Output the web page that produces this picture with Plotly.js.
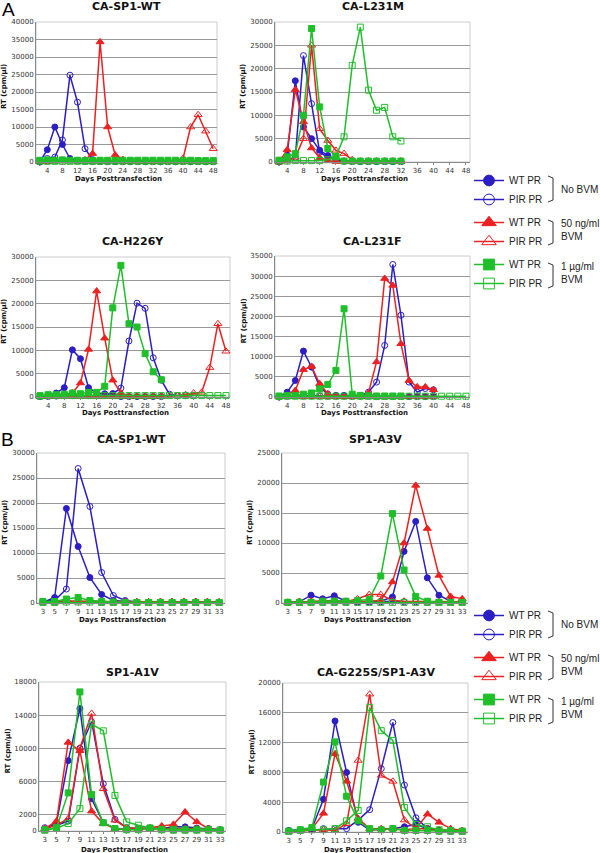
<!DOCTYPE html>
<html>
<head>
<meta charset="utf-8">
<script src="https://cdn.plot.ly/plotly-3.0.1.min.js"></script>
<style>
  html, body { margin: 0; padding: 0; background: #fff; }
  #chart { width: 600px; height: 853px; }
</style>
</head>
<body>
<div id="chart"></div>
<script>
// RT activity time courses, panels A and B.
var DAYS_A = [2, 4, 6, 8, 10, 12, 14, 16, 18, 20, 22, 24, 26, 28, 30, 32, 34, 36, 38, 40, 42, 44, 46, 48];
var DAYS_B = [3, 5, 7, 9, 11, 13, 15, 17, 19, 21, 23, 25, 27, 29, 31, 33];
var TICKS_A = [4, 8, 12, 16, 20, 24, 28, 32, 36, 40, 44, 48];
var TICKS_B = [3, 5, 7, 9, 11, 13, 15, 17, 19, 21, 23, 25, 27, 29, 31, 33];

// A: CA-SP1-WT
var a1_bWT  = [0, 3500, 10000, 5000, 1000, 300, 200, 100, 100, 100, 100, 100, 100, 100, 100, 100, 100, 100, 100, 100, 100, 100, 100, 100];
var a1_bPIR = [0, 1000, 1400, 6300, 24800, 17100, 3800, 700, 200, 100, 100, 100, 100, 100, 100, 100, 100, 100, 100, 100, 100, 100, 100, 100];
var a1_rWT  = [100, 200, 300, 500, 400, 300, 600, 2400, 34300, 10000, 2000, 700, 200, 100, 100, 100, 100, 100, 100, 100, 100, 100, 100, 100];
var a1_rPIR = [100, 100, 200, 300, 300, 200, 200, 200, 200, 200, 300, 200, 200, 200, 200, 200, 200, 200, 200, 1000, 10000, 13500, 8800, 3800];
var a1_gWT  = [500, 600, 500, 600, 500, 500, 400, 400, 500, 500, 500, 500, 500, 500, 500, 500, 500, 500, 500, 500, 500, 400, 400, 400];
var a1_gPIR = [200, 200, 200, 200, 200, 200, 200, 200, 200, 200, 200, 200, 200, 200, 200, 200, 200, 200, 200, 200, 200, 200, 200, 200];

// A: CA-L231M
var a2_bWT  = [0, 1500, 17400, 7500, 5000, 2500, 1400, 500, 200, 200, 100, 100, 100, 100, 100, 100];
var a2_bPIR = [0, 500, 1000, 22800, 12500, 2100, 1000, 500, 200, 100, 100, 100, 100, 100, 100, 100];
var a2_rWT  = [0, 2600, 15500, 8600, 3000, 900, 300, 100, 100, 100, 100, 100, 100, 100, 100, 100];
var a2_rPIR = [0, 200, 1000, 5000, 25000, 7100, 4600, 2500, 1800, 500, 200, 200, 200, 200, 200, 200];
var a2_gWT  = [400, 1100, 1800, 10000, 28600, 11800, 2900, 1100, 200, 200, 200, 200, 200, 200, 200, 200];
var a2_gPIR = [200, 200, 300, 300, 300, 300, 500, 1200, 5400, 20700, 28900, 15400, 11100, 11700, 5400, 4500];

// A: CA-H226Y
var a3_bWT  = [100, 350, 850, 2000, 10100, 8200, 2000, 850, 700, 700, 100, 100, 100, 100, 100, 100];
var a3_bPIR = [100, 100, 200, 300, 300, 300, 300, 300, 500, 700, 1900, 12000, 20100, 19000, 8400, 3600, 600, 300, 300, 300];
var a3_rWT  = [100, 100, 200, 300, 850, 3000, 10200, 22700, 12600, 3600, 850, 100, 100, 100, 100, 100];
var a3_rPIR = [100, 100, 100, 100, 100, 100, 100, 100, 100, 100, 100, 100, 100, 100, 100, 100, 200, 300, 500, 850, 1000, 6300, 15700, 9800];
var a3_gWT  = [200, 500, 500, 600, 850, 700, 1000, 1000, 2300, 19100, 28200, 15700, 15000, 9300, 5400, 3700];
var a3_gPIR = [300, 300, 300, 300, 300, 300, 300, 300, 300, 300, 300, 300, 300, 300, 300, 300, 300, 300, 300, 300, 300, 300, 300, 300];

// A: CA-L231F
var a4_bWT  = [0, 1200, 4100, 11400, 7400, 2500, 700, 400, 400, 200, 200, 200, 100, 100, 100, 100, 100, 100, 100, 100];
var a4_bPIR = [0, 200, 300, 300, 300, 300, 200, 200, 200, 200, 300, 1200, 3700, 12800, 32900, 20300, 3700, 1200, 2100, 1800];
var a4_rWT  = [0, 400, 1600, 6800, 7600, 3300, 800, 200, 100, 100, 100, 1000, 8700, 29400, 27700, 13200, 4100, 2500, 2500, 1800];
var a4_rPIR = [100, 100, 100, 100, 100, 100, 100, 100, 100, 100, 100, 100, 100, 100, 100, 100, 100, 100, 100, 100];
var a4_gWT  = [200, 400, 400, 700, 1000, 2000, 3100, 6600, 21900, 700, 400, 300, 200, 200, 200, 200];
var a4_gPIR = [200, 200, 200, 200, 200, 200, 200, 200, 200, 200, 200, 200, 200, 200, 200, 200, 200, 200, 200, 200, 200, 200, 200, 200];

// B: CA-SP1-WT
var b1_bWT  = [100, 1100, 18900, 11300, 5100, 1700, 500, 300, 100, 100, 100, 100, 100, 100, 100, 100];
var b1_bPIR = [300, 500, 2800, 26900, 19300, 6100, 1500, 500, 200, 100, 100, 100, 100, 100, 100, 100];
var b1_rWT  = [200, 200, 300, 400, 300, 300, 200, 200, 200, 200, 300, 300, 300, 300, 300, 200];
var b1_rPIR = [200, 200, 500, 200, 300, 300, 200, 200, 200, 200, 200, 300, 300, 300, 200, 200];
var b1_gWT  = [300, 300, 800, 1100, 500, 300, 200, 100, 100, 100, 100, 100, 100, 100, 100, 100];
var b1_gPIR = [100, 100, 200, 200, 200, 100, 100, 100, 100, 100, 100, 100, 100, 100, 100, 100];

// B: SP1-A3V
var b2_bWT  = [100, 200, 1300, 700, 1200, 300, 200, 200, 300, 1000, 8600, 13600, 4200, 1300, 300, 100];
var b2_bPIR = [100, 100, 100, 100, 100, 100, 100, 100, 200, 300, 200, 200, 100, 100, 100, 100];
var b2_rWT  = [100, 200, 300, 300, 400, 200, 200, 300, 400, 3500, 10000, 19600, 12400, 4600, 1100, 700];
var b2_rPIR = [100, 200, 300, 300, 300, 200, 700, 1400, 1400, 400, 300, 300, 200, 200, 200, 200];
var b2_gWT  = [100, 100, 100, 300, 300, 300, 400, 600, 4500, 14900, 5500, 1100, 300, 100, 100, 100];
var b2_gPIR = [100, 100, 100, 100, 100, 100, 100, 100, 100, 100, 100, 100, 100, 100, 100, 100];

// B: SP1-A1V
var b3_bWT  = [200, 1000, 8500, 14800, 3900, 1000, 300, 150, 300, 300, 300, 500, 500, 350, 150, 100];
var b3_bPIR = [400, 700, 1200, 10000, 13200, 5700, 1400, 400, 300, 300, 300, 300, 300, 300, 300, 150];
var b3_rWT  = [300, 1200, 10700, 9700, 2400, 900, 300, 200, 300, 400, 600, 800, 2300, 1100, 300, 100];
var b3_rPIR = [300, 700, 1500, 10000, 14200, 5100, 1300, 400, 300, 300, 300, 300, 300, 300, 200, 100];
var b3_gWT  = [150, 400, 4600, 16800, 4400, 1000, 300, 150, 150, 350, 150, 100, 100, 100, 100, 100];
var b3_gPIR = [100, 350, 900, 2700, 12900, 12100, 4300, 1100, 700, 350, 200, 200, 200, 200, 200, 100];

// B: CA-G225S/SP1-A3V
var b4_bWT  = [200, 300, 450, 4400, 14900, 8000, 1300, 300, 300, 450, 700, 1000, 450, 200, 100, 100];
var b4_bPIR = [100, 200, 300, 450, 450, 450, 1600, 3000, 8500, 14700, 6300, 1900, 450, 200, 100, 100];
var b4_rWT  = [100, 200, 450, 2500, 10500, 6800, 1800, 450, 450, 450, 300, 450, 2400, 1300, 450, 200];
var b4_rPIR = [100, 200, 200, 300, 200, 1100, 9600, 18500, 7600, 6800, 1600, 450, 450, 300, 200, 100];
var b4_gWT  = [100, 300, 600, 6700, 12100, 4800, 1500, 450, 300, 450, 200, 200, 200, 100, 100, 100];
var b4_gPIR = [100, 200, 300, 300, 450, 1500, 2900, 16700, 13600, 12300, 3300, 1000, 700, 300, 200, 100];

var BLUE = "#2a1ec4", RED = "#ec2020", GREEN = "#1fbf2a";
var W = 600, H = 853;
function fx(px) { return px / W; }
function fy(py) { return 1 - py / H; }

// legend entries, in legend order (green last so it sits on top)
var SERIES = [
  { name: "WT PR",  color: BLUE,  symbol: "circle",           size: 6, group: "none" },
  { name: "PIR PR", color: BLUE,  symbol: "circle-open",      size: 6, group: "none" },
  { name: "WT PR",  color: RED,   symbol: "triangle-up",      size: 7, group: "ng50" },
  { name: "PIR PR", color: RED,   symbol: "triangle-up-open", size: 7, group: "ng50" },
  { name: "WT PR",  color: GREEN, symbol: "square",           size: 6, group: "ug1" },
  { name: "PIR PR", color: GREEN, symbol: "square-open",      size: 6, group: "ug1" }
];

// box = [left, right, top, bottom] in px
var PANELS = [
  { title: "CA-SP1-WT", days: DAYS_A, ticks: TICKS_A, xr: [1, 49], box: [36, 217, 22, 162], ymax: 40000, yticks: [0, 5000, 10000, 15000, 20000, 25000, 30000, 35000, 40000],
    data: [a1_bWT, a1_bPIR, a1_rWT, a1_rPIR, a1_gWT, a1_gPIR], legend: "legend", titleY: 7, xtitleY: 179 },
  { title: "CA-L231M", days: DAYS_A, ticks: TICKS_A, xr: [1, 49], box: [275, 470, 22, 162], ymax: 30000, yticks: [0, 5000, 10000, 15000, 20000, 25000, 30000],
    data: [a2_bWT, a2_bPIR, a2_rWT, a2_rPIR, a2_gWT, a2_gPIR], titleY: 7, xtitleY: 179 },
  { title: "CA-H226Y", days: DAYS_A, ticks: TICKS_A, xr: [1, 49], box: [36, 230, 257, 397], ymax: 30000, yticks: [0, 5000, 10000, 15000, 20000, 25000, 30000],
    data: [a3_bWT, a3_bPIR, a3_rWT, a3_rPIR, a3_gWT, a3_gPIR], titleY: 241, xtitleY: 413 },
  { title: "CA-L231F", days: DAYS_A, ticks: TICKS_A, xr: [1, 49], box: [275, 470, 256, 397], ymax: 35000, yticks: [0, 5000, 10000, 15000, 20000, 25000, 30000, 35000],
    data: [a4_bWT, a4_bPIR, a4_rWT, a4_rPIR, a4_gWT, a4_gPIR], titleY: 241, xtitleY: 413 },
  { title: "CA-SP1-WT", days: DAYS_B, ticks: TICKS_B, xr: [2, 34], box: [37, 225, 453, 603], ymax: 30000, yticks: [0, 5000, 10000, 15000, 20000, 25000, 30000],
    data: [b1_bWT, b1_bPIR, b1_rWT, b1_rPIR, b1_gWT, b1_gPIR], legend: "legend2", titleY: 440, xtitleY: 620 },
  { title: "SP1-A3V", days: DAYS_B, ticks: TICKS_B, xr: [2, 34], box: [282, 468, 453, 603], ymax: 25000, yticks: [0, 5000, 10000, 15000, 20000, 25000],
    data: [b2_bWT, b2_bPIR, b2_rWT, b2_rPIR, b2_gWT, b2_gPIR], titleY: 440, xtitleY: 620 },
  { title: "SP1-A1V", days: DAYS_B, ticks: TICKS_B, xr: [2, 34], box: [39, 226, 682, 831], ymax: 18000, yticks: [0, 2000, 6000, 10000, 14000, 18000],
    data: [b3_bWT, b3_bPIR, b3_rWT, b3_rPIR, b3_gWT, b3_gPIR], titleY: 672, xtitleY: 850 },
  { title: "CA-G225S/SP1-A3V", days: DAYS_B, ticks: TICKS_B, xr: [2, 34], box: [283, 468, 683, 832], ymax: 20000, yticks: [0, 4000, 8000, 12000, 16000, 20000],
    data: [b4_bWT, b4_bPIR, b4_rWT, b4_rPIR, b4_gWT, b4_gPIR], titleY: 672, xtitleY: 850 }
];

var TICK_FONT = { family: "DejaVu Sans", size: 7, color: "#333" };
var BOLD = "DejaVu Sans";

var traces = [];
var layout = {
  width: W, height: H, autosize: false,
  margin: { l: 0, r: 0, t: 0, b: 0 },
  paper_bgcolor: "#fff", plot_bgcolor: "#fff",
  showlegend: true,
  shapes: [], annotations: []
};

PANELS.forEach(function (p, i) {
  var n = i + 1;
  var xa = "x" + n, ya = "y" + n;
  var b = p.box;

  SERIES.forEach(function (s, k) {
    traces.push({
      type: "scatter", mode: "lines+markers",
      x: p.days.slice(0, p.data[k].length), y: p.data[k],
      xaxis: xa, yaxis: ya,
      name: s.name, showlegend: false,
      line: { color: s.color, width: 1.5 },
      marker: { color: s.color, symbol: s.symbol, size: s.size, line: { color: s.color, width: 1 } },
      cliponaxis: false
    });
  });

  // legend keys (no points of their own, bigger symbols as in the figure)
  if (p.legend) {
    SERIES.forEach(function (s) {
      traces.push({
        type: "scatter", mode: "lines+markers",
        x: [null], y: [null], xaxis: xa, yaxis: ya,
        name: s.name, legend: p.legend, legendgroup: p.legend + "-" + s.group,
        line: { color: s.color, width: 1.5 },
        marker: { color: s.color, symbol: s.symbol, size: s.size * 1.8, line: { color: s.color, width: 1 } }
      });
    });
  }

  layout["xaxis" + n] = {
    domain: [fx(b[0]), fx(b[1])], anchor: ya,
    range: p.xr, tickmode: "array", tickvals: p.ticks, ticktext: p.ticks.map(String),
    showgrid: false, zeroline: false,
    showline: true, linecolor: "#888", linewidth: 1,
    ticks: "outside", ticklen: 2, tickcolor: "#888",
    tickfont: TICK_FONT, fixedrange: true
  };
  layout["yaxis" + n] = {
    domain: [fy(b[3]), fy(b[2])], anchor: xa,
    range: [0, p.ymax], tickmode: "array", tickvals: p.yticks, ticktext: p.yticks.map(String),
    showgrid: true, gridcolor: "#999", gridwidth: 1, zeroline: false,
    showline: true, linecolor: "#888", linewidth: 1,
    ticks: "", tickfont: TICK_FONT, fixedrange: true
  };

  // light frame on the right/top of each plot area
  layout.shapes.push({
    type: "rect", xref: xa + " domain", yref: ya + " domain",
    x0: 0, x1: 1, y0: 0, y1: 1, line: { color: "#ccc", width: 1 }, layer: "below"
  });

  var cx = (b[0] + b[1]) / 2;
  layout.annotations.push({
    text: "<b>" + p.title + "</b>", xref: "paper", yref: "paper",
    x: fx(cx), y: fy(p.titleY), xanchor: "center", yanchor: "middle", showarrow: false,
    font: { family: BOLD, size: 11, color: "#111" }
  });
  layout.annotations.push({
    text: "<b>Days Posttransfection</b>", xref: "paper", yref: "paper",
    x: fx(cx - 8), y: fy(p.xtitleY), xanchor: "center", yanchor: "middle", showarrow: false,
    font: { family: BOLD, size: 7, color: "#111" }
  });
  layout.annotations.push({
    text: "<b>RT (cpm/µl)</b>", xref: "paper", yref: "paper", textangle: -90,
    x: fx(b[0] - 32), y: fy((b[2] + b[3]) / 2 - 5), xanchor: "center", yanchor: "middle", showarrow: false,
    font: { family: BOLD, size: 7, color: "#111" }
  });
});

// panel letters
[["A", 8, 9], ["B", 7, 440]].forEach(function (l) {
  layout.annotations.push({
    text: l[0], xref: "paper", yref: "paper", x: fx(l[1]), y: fy(l[2]),
    xanchor: "center", yanchor: "middle", showarrow: false,
    font: { family: "Liberation Sans", size: 19, color: "#000" }
  });
});

// legends with brackets and BVM labels
var LEG_FONT = { family: "Liberation Sans", size: 10, color: "#222" };
function legendBox(topPx) {
  return {
    x: fx(469), y: fy(topPx), xanchor: "left", yanchor: "top",
    font: LEG_FONT, itemsizing: "trace", tracegroupgap: 4,
    bgcolor: "rgba(0,0,0,0)", borderwidth: 0, itemclick: false, itemdoubleclick: false
  };
}
layout.legend = legendBox(166);
layout.legend2 = legendBox(601);

var GROUP_LABELS = ["No BVM", "50 ng/ml<br>BVM", "1 µg/ml<br>BVM"];
function brackets(rows) {
  for (var g = 0; g < 3; g++) {
    var t = rows[2 * g] - 2, bt = rows[2 * g + 1] + 3;
    layout.shapes.push({
      type: "path", xref: "paper", yref: "paper",
      path: "M " + fx(548) + " " + fy(t) + " L " + fx(553) + " " + fy(t + 2) +
            " L " + fx(553) + " " + fy(bt - 2) + " L " + fx(548) + " " + fy(bt),
      line: { color: "#333", width: 1 }
    });
    layout.annotations.push({
      text: GROUP_LABELS[g], xref: "paper", yref: "paper",
      x: fx(559), y: fy(g === 0 ? (t + bt) / 2 : t + 10), xanchor: "left", yanchor: "middle",
      align: "left", showarrow: false, font: LEG_FONT
    });
  }
}
brackets([178, 199, 222, 242, 265, 285]);
brackets([613, 635, 657, 677, 700, 721]);

Plotly.newPlot("chart", traces, layout, { displayModeBar: false, staticPlot: true });
</script>
</body>
</html>
